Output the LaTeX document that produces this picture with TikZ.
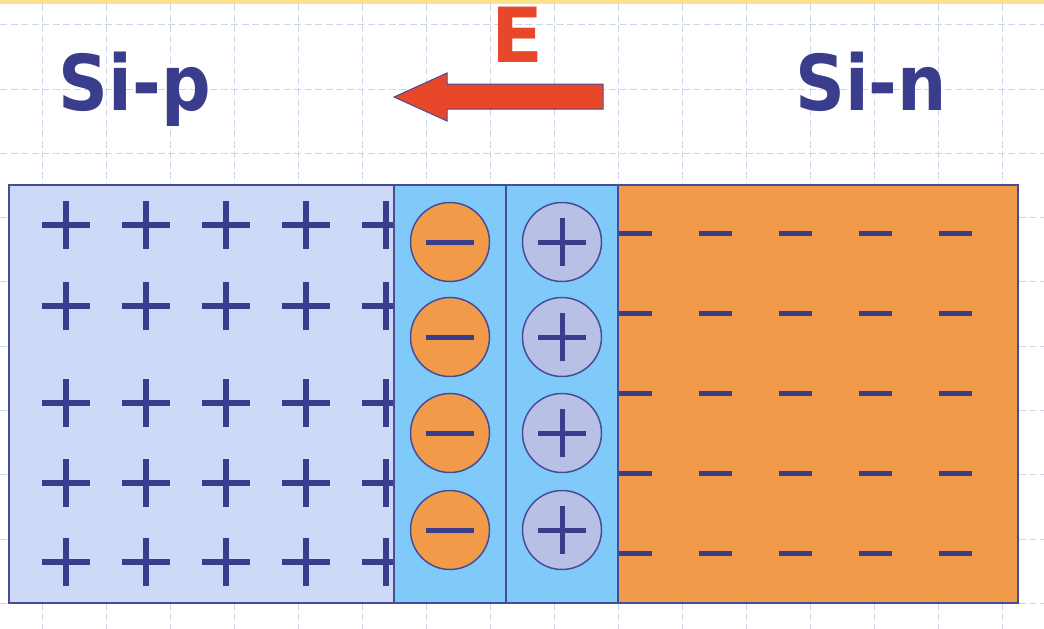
\documentclass[tikz,border=0pt]{standalone}
\usepackage{fontspec}
\setmainfont{DejaVu Sans}
\definecolor{yel}{HTML}{FBE38E}
\definecolor{gridc}{HTML}{CBD6EE}
\definecolor{pfill}{HTML}{CDD9F6}
\definecolor{dfill}{HTML}{7FCAF8}
\definecolor{nfill}{HTML}{F19B4A}
\definecolor{posfill}{HTML}{B9C0E6}
\definecolor{navy}{HTML}{3A3D8C}
\definecolor{edge}{HTML}{464C9A}
\definecolor{efield}{HTML}{E9472A}
\begin{document}
\begin{tikzpicture}[x=1pt,y=-1pt,
  gridline/.style={draw=gridc, line width=1pt, dash pattern=on 7pt off 3.5pt},
  region/.style={draw=edge, line width=1.6pt, inner sep=0pt, outer sep=0pt, anchor=north west, rectangle},
  sgn/.style={draw=navy, line width=5.5pt},
  csgn/.style={draw=navy, line width=5pt},
  ion/.style={circle, draw=edge, line width=1.5pt, minimum size=79pt, inner sep=0pt},
  negion/.style={ion, fill=nfill},
  posion/.style={ion, fill=posfill},
  lbl/.style={text=navy, font=\bfseries\fontsize{77}{77}\selectfont, inner sep=0pt, anchor=base, xscale=0.9},
  elbl/.style={text=efield, font=\bfseries\fontsize{76}{76}\selectfont, inner sep=0pt, anchor=base}]
\useasboundingbox (0,0) rectangle (1044,629);
\fill[white] (0,0) rectangle (1044,629);
\fill[yel] (0,0) rectangle (1044,3.5);
% grid
\foreach \x in {42,106,170,234,298,362,426,490,554,618,682,746,810,874,938,1002}
  \draw[gridline] (\x,4) -- (\x,629);
\foreach \y in {24.5,89,153,217,281,346,410,474,539,603}
  \draw[gridline] (0,\y) -- (1044,\y);
% p region
\node[region, fill=pfill, minimum width=385pt, minimum height=418pt] (p) at (9,185) {};
\foreach \x in {66,146,226,306,386}
  \foreach \y in {225,306,403,483,562} {
    \draw[sgn] (\x-24,\y) -- (\x+24,\y);
    \draw[sgn] (\x,\y-24) -- (\x,\y+24);
  }
% n region
\node[region, fill=nfill, minimum width=400pt, minimum height=418pt] (n) at (618,185) {};
\foreach \x in {635,715,795,875,955}
  \foreach \y in {233,313,393,473,553}
    \draw[sgn, line width=5pt] (\x-16.5,\y) -- (\x+16.5,\y);
% depletion regions
\node[region, fill=dfill, minimum width=112pt, minimum height=418pt] (dl) at (394,185) {};
\node[region, fill=dfill, minimum width=112pt, minimum height=418pt] (dr) at (506,185) {};
\draw[edge, line width=1.6pt] (p.north west) rectangle (n.south east);
% ions
\foreach \i/\y in {1/242,2/337,3/433,4/530} {
  \node[negion] (m\i) at (450,\y) {};
  \draw[csgn] ([xshift=-24pt]m\i.center) -- ([xshift=24pt]m\i.center);
  \node[posion] (q\i) at (562,\y) {};
  \draw[csgn] ([xshift=-24pt]q\i.center) -- ([xshift=24pt]q\i.center);
  \draw[csgn] ([yshift=-24pt]q\i.center) -- ([yshift=24pt]q\i.center);
}
% labels
\node[lbl] (sip) at (135,110) {Si-p};
\node[lbl] (sin) at (871,110) {Si-n};
\node[elbl] (E) at (517,62) {E};
% field arrow
\draw[fill=efield, draw=edge, line width=1pt, line join=miter]
  (394,97) -- (447,73) -- (447,84) -- (603,84) -- (603,109) -- (447,109) -- (447,121) -- cycle;
\end{tikzpicture}
\end{document}
